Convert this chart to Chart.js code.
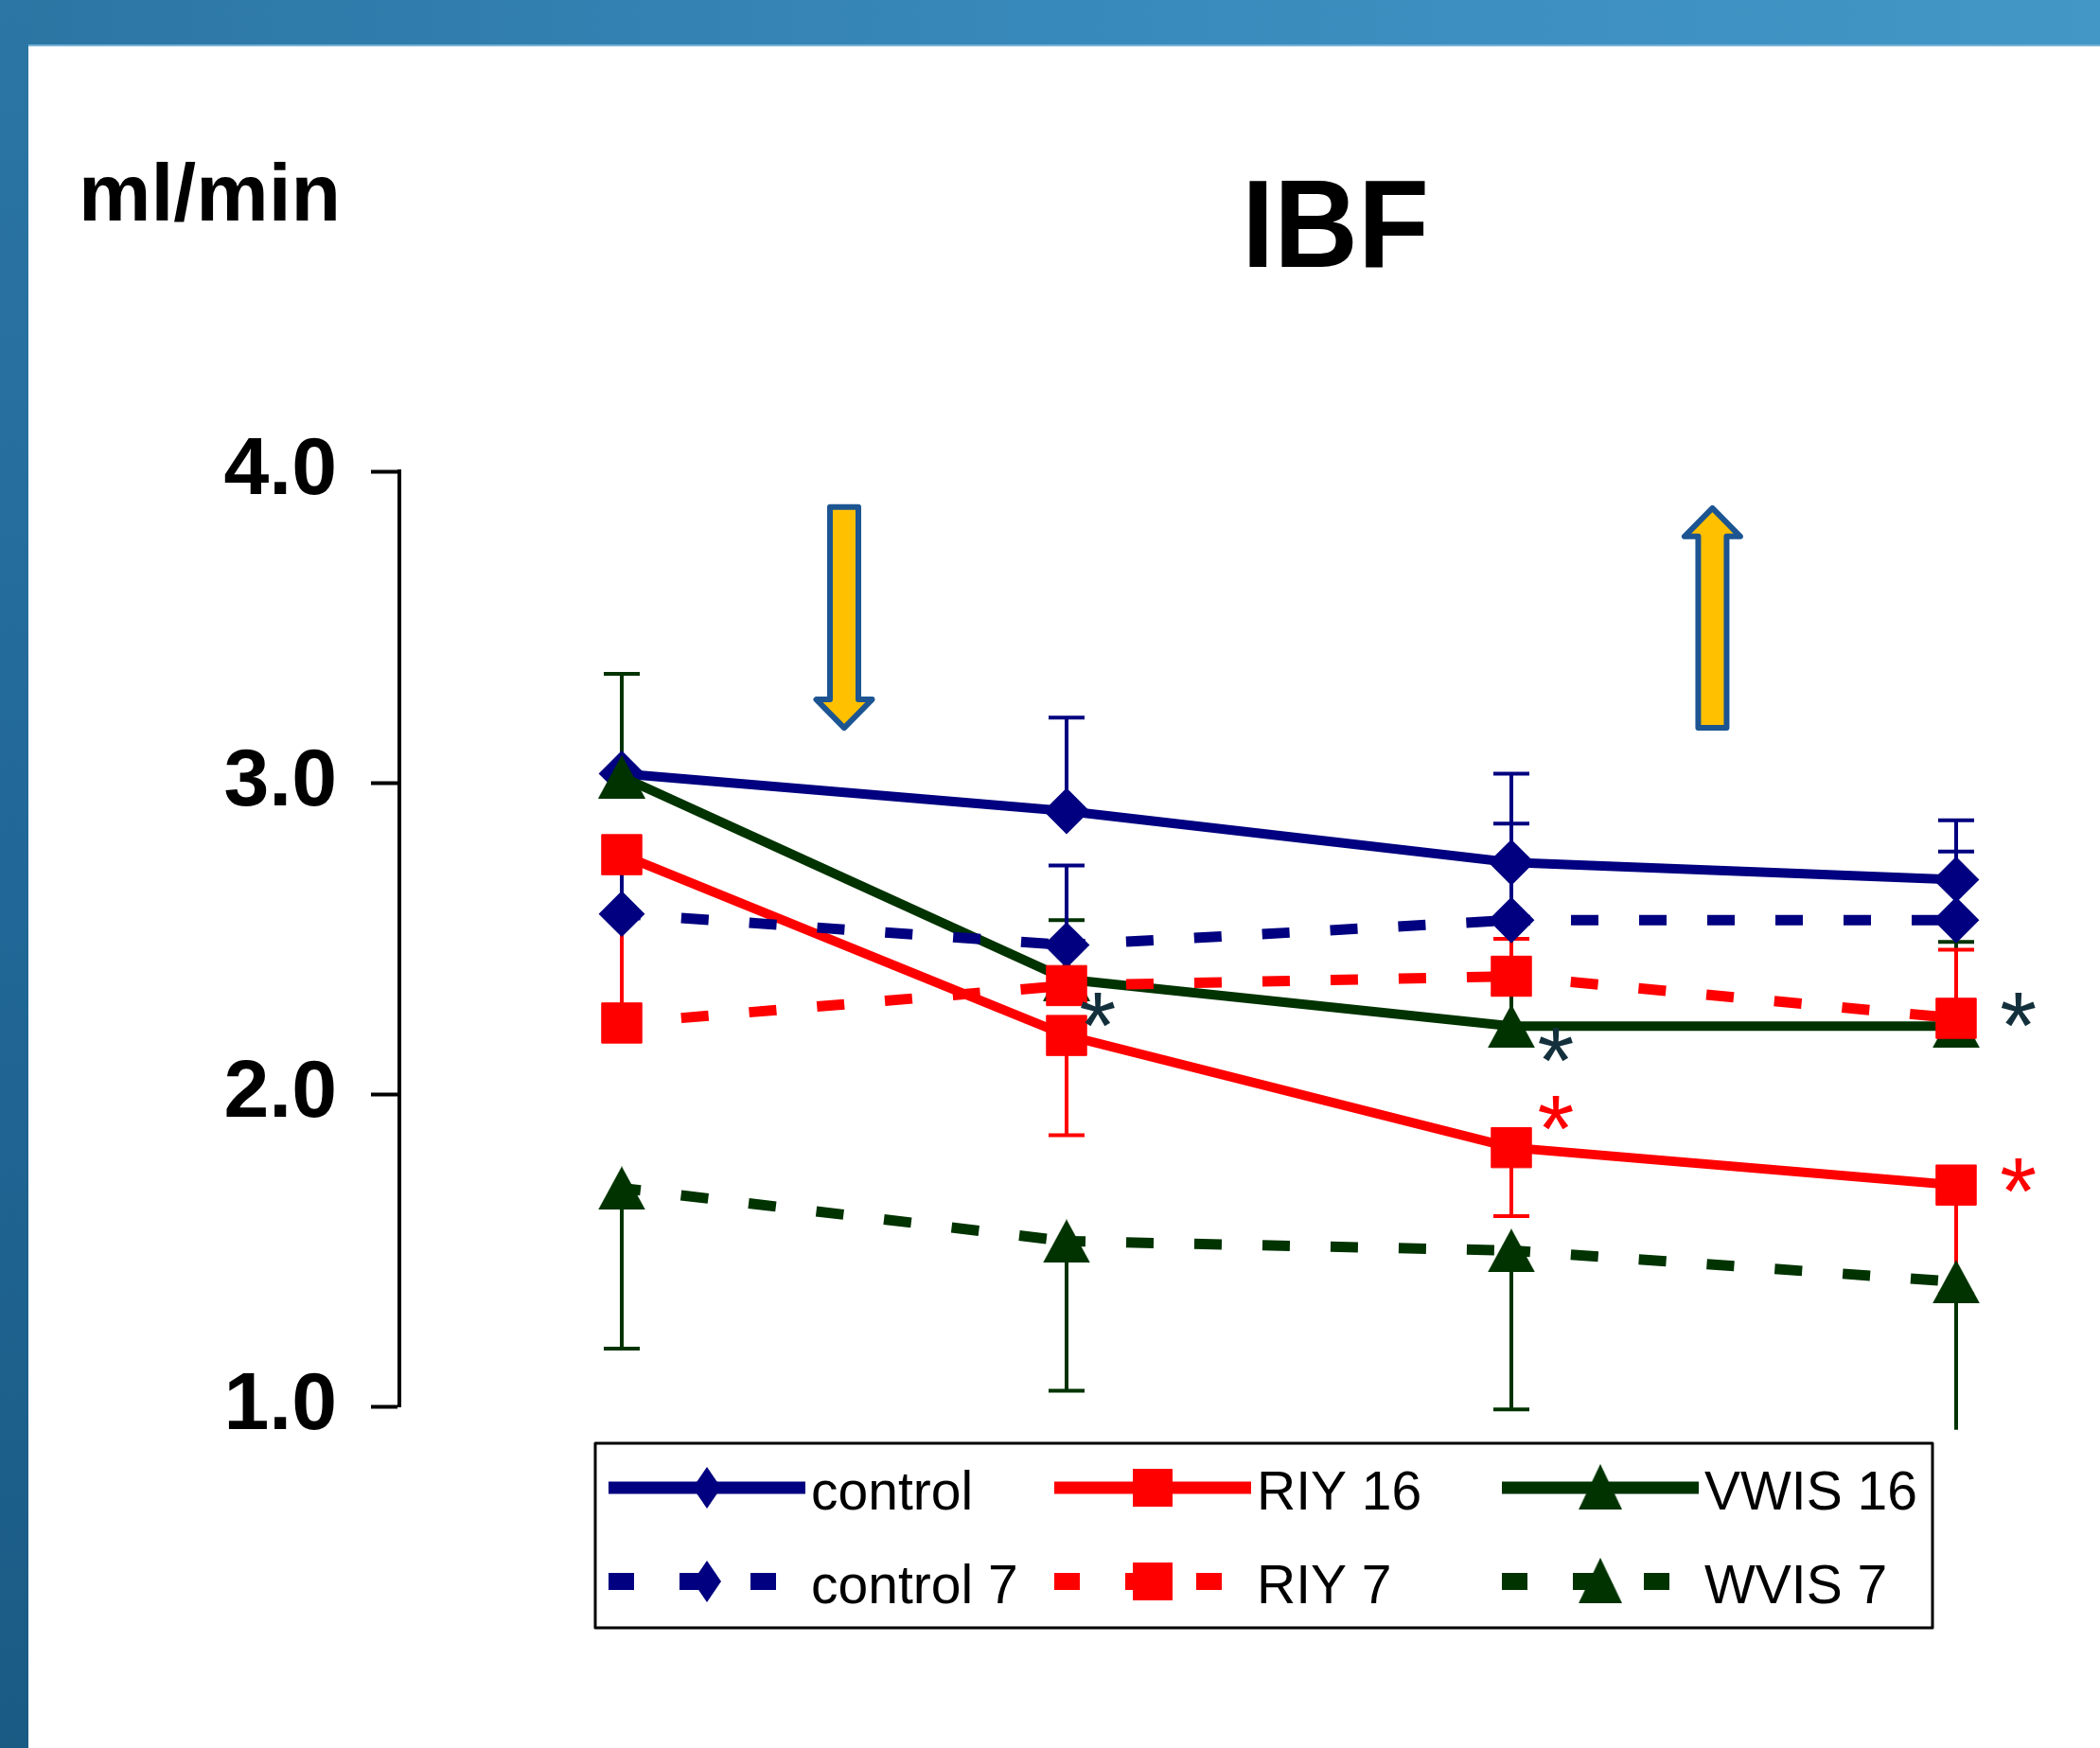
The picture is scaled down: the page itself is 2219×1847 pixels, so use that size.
<!DOCTYPE html>
<html>
<head>
<meta charset="utf-8">
<title>IBF</title>
<script src="https://cdn.jsdelivr.net/npm/chart.js@4/dist/chart.umd.min.js"></script>
<style>
  html, body { margin: 0; padding: 0; background: #ffffff; }
  #frame { position: relative; width: 2219px; height: 1847px; overflow: hidden; background: #ffffff; }
  #topBand { position: absolute; left: 0; top: 0; width: 2219px; height: 47px;
             background: linear-gradient(90deg, #2b75a3 0%, #3889bb 50%, #4297c7 100%);
             border-bottom: 2px solid #7ab4d8; }
  #leftBand { position: absolute; left: 0; top: 0; width: 30px; height: 1847px;
              background: linear-gradient(180deg, #2b76a4 0%, #22699a 45%, #1a5b84 100%); }
  #chart { position: absolute; left: 0; top: 0; }
</style>
</head>
<body>
<div id="frame">
  <div id="topBand"></div>
  <div id="leftBand"></div>
  <canvas id="chart" width="2219" height="1847"></canvas>
</div>
<script>
// ---- data -------------------------------------------------------------
const timePoints = [0, 1, 2, 3];
const yTicks = [1, 2, 3, 4];

const seriesLabels = ['control', 'RIY 16', 'VWIS 16', 'control 7', 'RIY 7', 'WVIS 7'];

const control     = [3.03, 2.91, 2.745, 2.69];
const controlErr  = [0.32, 0.30, 0.285, 0.19];
const riy16       = [2.77, 2.19, 1.83, 1.71];
const riy16Err    = [0.54, 0.32, 0.22, 0.35];
const vwis16      = [3.02, 2.37, 2.22, 2.22];
const vwis16Err   = [0.33, 0.19, 0.18, 0.27];
const control7    = [2.58, 2.48, 2.56, 2.56];
const control7Err = [0.20, 0.255, 0.31, 0.22];
const riy7        = [2.23, 2.35, 2.38, 2.245];
const riy7Err     = [0.35, 0.12, 0.12, 0.22];
const wvis7       = [1.70, 1.53, 1.50, 1.40];
const wvis7Err    = [0.515, 0.48, 0.51, 0.52];

// significance asterisks: [time position, value, group]
const sigX     = [1.07, 2.10, 2.10, 3.14, 3.14];
const sigY     = [2.27, 2.157, 1.938, 2.27, 1.738];
const sigGroup = ['dark', 'dark', 'red', 'dark', 'red'];

// ---- styling ----------------------------------------------------------
const NAVY = '#000080', RED = '#ff0000', GREEN = '#003300', STAR_DARK = '#13303c';
const FONT = "'Liberation Sans', Arial, Helvetica, sans-serif";
Chart.defaults.font.family = FONT;

function triangleImage(color, w, h) {
  const c = document.createElement('canvas');
  c.width = w; c.height = h;
  const g = c.getContext('2d');
  g.fillStyle = color;
  g.beginPath();
  g.moveTo(w / 2, 0);
  g.lineTo(w, h);
  g.lineTo(0, h);
  g.closePath();
  g.fill();
  return c;
}
const greenTriangle = triangleImage(GREEN, 50, 46);

function series(label, values, errors, dir, color, dashed, marker, order) {
  const ds = {
    label,
    data: values.map((v, i) => ({ x: timePoints[i], y: v })),
    errors,
    errorDir: dir,
    dashed,
    markerKind: marker,
    borderColor: color,
    backgroundColor: color,
    borderWidth: dashed ? 11 : 10,
    borderDash: dashed ? [29, 43] : [],
    tension: 0,
    order,
    pointBorderColor: color,
    pointBackgroundColor: color
  };
  if (dashed) {
    // each segment restarts its dash pattern at the point it leaves
    ds.segment = { borderDashOffset: ctx => 9 + ctx.p0DataIndex * 1e-4 };
  }
  if (marker === 'diamond') {
    ds.pointStyle = 'rectRot'; ds.pointRadius = 23; ds.pointBorderWidth = 2;
  } else if (marker === 'square') {
    ds.pointStyle = 'rect'; ds.pointRadius = 30; ds.pointBorderWidth = 1;
  } else {
    ds.pointStyle = greenTriangle; ds.pointRadius = 25; ds.pointBorderWidth = 0;
  }
  ds.pointHoverRadius = ds.pointRadius;
  return ds;
}

const datasets = [
  series(seriesLabels[0], control,  controlErr,  1, NAVY,  false, 'diamond',  5),
  series(seriesLabels[1], riy16,    riy16Err,   -1, RED,   false, 'square',   4),
  series(seriesLabels[2], vwis16,   vwis16Err,   1, GREEN, false, 'triangle', 3),
  series(seriesLabels[3], control7, control7Err, 1, NAVY,  true,  'diamond',  2),
  series(seriesLabels[4], riy7,     riy7Err,     1, RED,   true,  'square',   1),
  series(seriesLabels[5], wvis7,    wvis7Err,   -1, GREEN, true,  'triangle', 0)
];

// ---- plugins ----------------------------------------------------------
const errorBars = {
  id: 'errorBars',
  beforeDatasetsDraw(chart, args, opts) {
    const { ctx, scales: { x, y } } = chart;
    const clipBottom = y.getPixelForValue(opts.clipMin);
    ctx.save();
    ctx.beginPath();
    ctx.rect(0, 0, chart.width, clipBottom);
    ctx.clip();
    ctx.lineWidth = opts.width;
    ctx.lineCap = 'butt';
    chart.data.datasets.forEach(ds => {
      ds.errors.forEach((e, j) => {
        const pt = ds.data[j];
        const px = x.getPixelForValue(pt.x);
        const p0 = y.getPixelForValue(pt.y);
        const p1 = y.getPixelForValue(pt.y + ds.errorDir * e);
        ctx.strokeStyle = ds.borderColor;
        ctx.beginPath();
        ctx.moveTo(px, p0);
        ctx.lineTo(px, p1);
        ctx.moveTo(px - opts.cap / 2, p1);
        ctx.lineTo(px + opts.cap / 2, p1);
        ctx.stroke();
      });
    });
    ctx.restore();
  }
};

function drawArrow(ctx, cx, yTail, yTip, o) {
  const dir = yTip > yTail ? 1 : -1;
  const hs = o.shaft / 2, hh = o.head / 2;
  const yShoulder = yTip - dir * o.headLen;
  ctx.beginPath();
  ctx.moveTo(cx - hs, yTail);
  ctx.lineTo(cx + hs, yTail);
  ctx.lineTo(cx + hs, yShoulder);
  ctx.lineTo(cx + hh, yShoulder);
  ctx.lineTo(cx, yTip);
  ctx.lineTo(cx - hh, yShoulder);
  ctx.lineTo(cx - hs, yShoulder);
  ctx.closePath();
  ctx.fillStyle = o.fill;
  ctx.fill();
  ctx.lineWidth = o.lineWidth;
  ctx.lineJoin = 'round';
  ctx.strokeStyle = o.stroke;
  ctx.stroke();
}

function drawLegendMarker(ctx, kind, cx, cy, color) {
  ctx.fillStyle = color;
  if (kind === 'diamond') {
    ctx.beginPath();
    ctx.moveTo(cx, cy - 22);
    ctx.lineTo(cx + 15, cy);
    ctx.lineTo(cx, cy + 22);
    ctx.lineTo(cx - 15, cy);
    ctx.closePath();
    ctx.fill();
  } else if (kind === 'square') {
    ctx.fillRect(cx - 21, cy - 20, 42, 40);
  } else {
    ctx.drawImage(greenTriangle, cx - 23, cy - 25, 46, 48);
  }
}

const annotations = {
  id: 'annotations',
  afterDatasetsDraw(chart, args, opts) {
    const { ctx, scales: { x, y } } = chart;
    ctx.save();

    // heading and unit
    ctx.fillStyle = '#000';
    ctx.textBaseline = 'alphabetic';
    ctx.textAlign = 'center';
    ctx.font = `bold 132px ${FONT}`;
    ctx.save();
    ctx.translate(1411, 282);
    ctx.scale(0.93, 1);
    ctx.fillText('IBF', 0, 0);
    ctx.restore();
    ctx.textAlign = 'left';
    ctx.font = `bold 86px ${FONT}`;
    ctx.fillText('ml/min', 83, 233);

    // treatment arrows
    opts.arrows.forEach(a => {
      drawArrow(ctx, x.getPixelForValue(a.x), y.getPixelForValue(a.from), y.getPixelForValue(a.to), opts.arrowStyle);
    });

    // significance asterisks
    ctx.textAlign = 'center';
    ctx.font = `normal 100px ${FONT}`;
    sigX.forEach((sx, i) => {
      ctx.fillStyle = sigGroup[i] === 'red' ? RED : STAR_DARK;
      ctx.fillText('*', x.getPixelForValue(sx), y.getPixelForValue(sigY[i]) + 50);
    });

    // legend box
    const L = opts.legend;
    ctx.lineWidth = 3;
    ctx.strokeStyle = '#000';
    ctx.strokeRect(L.left, L.top, L.width, L.height);
    ctx.font = `normal 57px ${FONT}`;
    ctx.textAlign = 'left';
    chart.data.datasets.forEach((ds, i) => {
      const col = i % 3, row = Math.floor(i / 3);
      const lx = L.left + L.colOffsets[col];
      const cy = L.top + L.rowOffsets[row];
      ctx.save();
      ctx.strokeStyle = ds.borderColor;
      ctx.lineCap = 'butt';
      if (ds.dashed) {
        ctx.lineWidth = 18;
        ctx.setLineDash([27, 48]);
      } else {
        ctx.lineWidth = 13;
        ctx.setLineDash([]);
      }
      ctx.beginPath();
      ctx.moveTo(lx, cy);
      ctx.lineTo(lx + L.lineLen, cy);
      ctx.stroke();
      ctx.restore();
      drawLegendMarker(ctx, ds.markerKind, lx + L.lineLen / 2, cy, ds.borderColor);
      ctx.fillStyle = '#000';
      ctx.fillText(ds.label, lx + L.lineLen + 6, cy + 23);
    });

    ctx.restore();
  }
};

// ---- chart ------------------------------------------------------------
new Chart(document.getElementById('chart'), {
  type: 'line',
  data: { datasets },
  plugins: [errorBars, annotations],
  options: {
    responsive: false,
    animation: false,
    events: [],
    layout: { autoPadding: false, padding: { top: 498, bottom: 361, left: 0, right: 11 } },
    scales: {
      x: { type: 'linear', min: -0.5, max: 3.3, display: false },
      y: {
        type: 'linear',
        min: 1,
        max: 4,
        afterBuildTicks: s => { s.ticks = yTicks.map(v => ({ value: v })); },
        afterFit: s => { s.width = 422; },
        ticks: {
          callback: v => Number(v).toFixed(1),
          color: '#000',
          padding: 36,
          font: { size: 86, weight: 'bold', family: FONT }
        },
        grid: { drawOnChartArea: false, drawTicks: true, tickLength: 30, tickWidth: 4, color: '#000' },
        border: { display: true, color: '#000', width: 4 }
      }
    },
    plugins: {
      legend: { display: false },
      tooltip: { enabled: false },
      title: { display: false },
      errorBars: { width: 4, cap: 38, clipMin: 0.925 },
      annotations: {
        arrows: [
          { x: 0.5, from: 3.885, to: 3.177 },
          { x: 2.452, from: 3.177, to: 3.882 }
        ],
        arrowStyle: { shaft: 30, head: 59, headLen: 30, fill: '#ffc000', stroke: '#1c5592', lineWidth: 6 },
        legend: {
          left: 629, top: 1525, width: 1413, height: 195,
          colOffsets: [14, 485, 958], rowOffsets: [47, 146], lineLen: 208
        }
      }
    }
  }
});
</script>
</body>
</html>
